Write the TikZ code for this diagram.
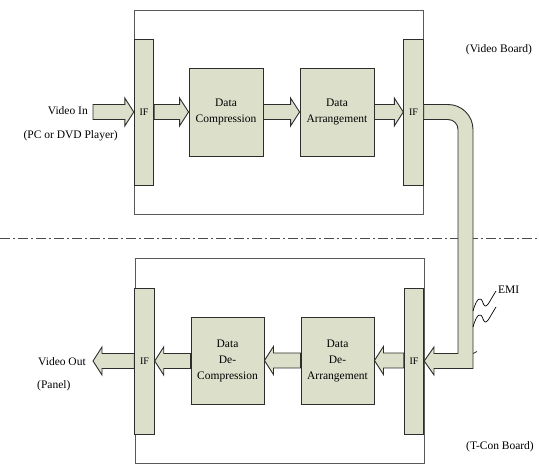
\documentclass[tikz,border=0pt]{standalone}
\usepackage{fontspec}
\setmainfont{Liberation Serif}
\usetikzlibrary{calc}

\definecolor{panel}{RGB}{220,224,203}
\definecolor{edge}{RGB}{45,45,45}

\tikzset{
  board/.style={draw=black!65, line width=0.9pt, minimum width=289pt,
    minimum height=204pt, inner sep=0pt},
  ifbar/.style={draw=edge, fill=panel, line width=0.9pt, minimum width=19.5pt,
    minimum height=146pt, inner sep=0pt, font=\fontsize{10}{11}\selectfont},
  block/.style={draw=edge, fill=panel, line width=0.9pt, minimum width=74pt,
    minimum height=88pt, inner sep=0pt, align=center,
    font=\fontsize{11.5}{16}\selectfont},
  label/.style={inner sep=0pt, font=\fontsize{11.5}{14}\selectfont},
  flow/.style={draw=edge, fill=panel, line width=0.9pt, line join=miter},
  divider/.style={draw=black!70, line width=0.9pt,
    dash pattern=on 10pt off 3pt on 2pt off 3pt},
  noise/.style={draw=black, line width=0.7pt},
}

% block arrow from the tail point #2 to the tip point #3 (same height);
% #1 is '-' for an arrow pointing right, '+' for one pointing left
\newcommand\flowarrow[3]{%
  \path[flow] let \p1=(#2), \p2=(#3) in
    (\x1,\y2+7.5pt) -- ({\x2#19pt},\y2+7.5pt) -- ({\x2#19pt},\y2+14pt)
    -- (\x2,\y2) -- ({\x2#19pt},\y2-14pt) -- ({\x2#19pt},\y2-7.5pt)
    -- (\x1,\y2-7.5pt) -- cycle;}

\begin{document}
\begin{tikzpicture}[x=1pt,y=-1pt]
\useasboundingbox (0,0) rectangle (539,465);

% the two boards
\node[board] (vboard) at (278.5,112) {};
\node[board, minimum height=205pt] (tboard) at (279.5,360.5) {};

% separator between the boards
\coordinate (divL) at (0,238);
\coordinate (divR) at (539,238);
\draw[divider] (divL) -- (divR);

% video board
\node[ifbar] (inIF) at (144,112) {IF};
\node[ifbar] (outIF) at (413.5,112) {IF};
\node[block] (cmp) at (226,112) {Data\\Compression};
\node[block] (arr) at (337,112) {Data\\Arrangement};

% T-Con board
\node[ifbar] (bIFl) at (144.5,361) {IF};
\node[ifbar] (bIFr) at (414,361) {IF};
\node[block, minimum width=73pt, minimum height=87pt] (dcmp) at (227.5,360.5) {Data\\De-\\Compression};
\node[block, minimum width=73pt, minimum height=87pt] (darr) at (337.5,360.5) {Data\\De-\\Arrangement};

% outside ends of the chain
\coordinate (vin) at (93,112);
\coordinate (vout) at (93,361);

% data flow on the video board
\flowarrow{-}{vin}{inIF.west}
\flowarrow{-}{inIF.east}{cmp.west}
\flowarrow{-}{cmp.east}{arr.west}
\flowarrow{-}{arr.east}{outIF.west}

% data flow on the T-Con board
\flowarrow{+}{bIFr.west}{darr.east}
\flowarrow{+}{darr.west}{dcmp.east}
\flowarrow{+}{dcmp.west}{bIFl.east}
\flowarrow{+}{bIFl.west}{vout}

% cable between the boards
\path[flow] (outIF.east) ++(0,-7.5) -- (448,104.5)
  arc[start angle=-90, end angle=0, radius=25]
  -- (473,368.5) -- (434,368.5) -- (434,375) -- (bIFr.east)
  -- (434,347) -- (434,353.5) -- (458,353.5) -- (458,129.5)
  arc[start angle=0, end angle=-90, radius=10]
  -- (outIF.east |- 0,119.5) -- cycle;
\draw[edge, line width=0.7pt] (473,353.5) -- (477,351.5);

% interference on the cable
\draw[noise] (473,311) .. controls (477,297) and (481,296) .. (483,303)
  .. controls (486,311) and (489,302) .. (496,291);
\draw[noise] (473,327) .. controls (477,313) and (481,312) .. (483,319)
  .. controls (486,327) and (489,318) .. (496,307);

% labels
\node[label, anchor=east] (tin) at (88,111) {Video In};
\node[label, anchor=east] (tsrc) at (118,136) {(PC or DVD Player)};
\node[label, anchor=west] (tout) at (38,362) {Video Out};
\node[label, anchor=west] (tpanel) at (37,386) {(Panel)};
\node[label] (tvb) at (499,50) {(Video Board)};
\node[label] (ttb) at (500,447) {(T-Con Board)};
\node[label, anchor=west] (temi) at (498,290) {EMI};
\end{tikzpicture}
\end{document}
